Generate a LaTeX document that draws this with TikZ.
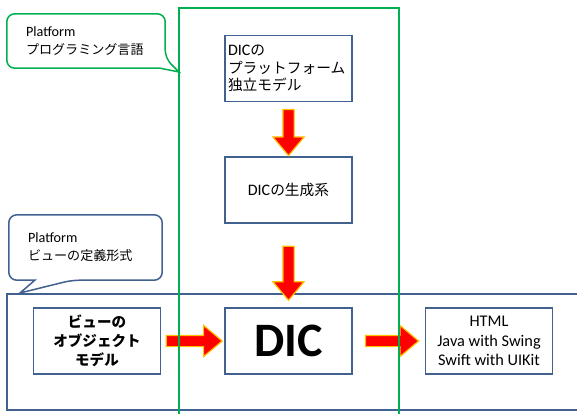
\documentclass[tikz,border=0pt]{standalone}
\usepackage{fontspec}
\setmainfont{Carlito}
\newfontfamily\jp{Noto Sans CJK JP}[Scale=0.92]
\usetikzlibrary{shapes.arrows,calc}
\definecolor{boxblue}{HTML}{41618F}
\definecolor{lanegreen}{HTML}{00B050}
\definecolor{arrowedge}{HTML}{FFC000}
\tikzset{
  blocknode/.style = {inner sep=0pt, font=\fontsize{16}{17.5}\selectfont},
  % B box: blue frame, centred text
  box_B/.style = {blocknode, rectangle, draw=boxblue, line width=1.5pt, fill=white,
    minimum width=127pt, minimum height=66pt, align=center},
  % L box: same frame, text to the left
  box_L/.style = {box_B, align=left, text width=121pt, inner xsep=3pt},
  callout_T/.style = {inner sep=0pt, font=\fontsize{14.2}{18}\selectfont, align=left},
  callout_G/.style = {draw=lanegreen, line width=1.5pt, fill=white},
  callout_B/.style = {draw=boxblue, line width=1.5pt, fill=white},
  % big red arrows
  arr_X/.style = {single arrow, draw=arrowedge, fill=red, line width=1.2pt, inner sep=5pt,
    single arrow head extend=10pt, single arrow tip angle=80},
  arr_D/.style = {arr_X, shape border rotate=270},
  arr_R/.style = {arr_X, shape border rotate=0},
  region_B/.style = {draw=boxblue, line width=2pt},
  lane_G/.style = {draw=lanegreen, line width=1.5pt}
}

\begin{document}
\begin{tikzpicture}[x=1pt,y=-1pt]
  \useasboundingbox (0,0) rectangle (577,414);
  % Platform - view definition region:
  \draw[region_B] (7,294) rectangle (610,410);

  % Callout 1 - programming language:
  \node[callout_T, text width=120pt, inner xsep=19pt, minimum width=158pt, minimum height=54pt]
    (pf1) at (86,41) {Platform\\{\jp プログラミング言語}};
  \coordinate (tip1) at (179,72);
  \draw[callout_G] (pf1.north) [rounded corners=8pt] -- (pf1.north east)
    -- ($(pf1.south east)+(0,-10)$) [sharp corners] -- (tip1) -- ($(pf1.south east)+(-5,0)$)
    [rounded corners=8pt] -- (pf1.south west) -- (pf1.north west) -- cycle;
  \node[callout_T, text width=120pt, inner xsep=19pt] at (pf1) {Platform\\{\jp プログラミング言語}};

  % Callout 2 - view definition form:
  \node[callout_T, text width=115pt, inner xsep=19pt, minimum width=153pt, minimum height=65pt]
    (pf2) at (85.5,247.5) {Platform\\{\jp ビューの定義形式}};
  \coordinate (tip2) at (20,293);
  \draw[callout_B] (pf2.north) [rounded corners=8pt] -- (pf2.north east) -- (pf2.south east)
    -- ($(pf2.south west)+(63,0)$) [sharp corners] -- (tip2) -- ($(pf2.south west)+(26,0)$)
    [rounded corners=8pt] -- (pf2.south west) -- (pf2.north west) -- cycle;
  \node[callout_T, text width=115pt, inner xsep=19pt] at (pf2) {Platform\\{\jp ビューの定義形式}};

  % Layer 0 - independent model and generator:
  \node[box_L] (pim) at (288.5,68.5) {DIC{\jp の}\\{\jp プラットフォーム}\\{\jp 独立モデル}};
  \node[box_B] (gen) at (288.5,190) {DIC{\jp の生成系}};

  % Layer 1 - view model, DIC, targets:
  \node[box_B, font=\fontsize{15.8}{19}\selectfont\bfseries] (view) at (97,341)
    {{\jp ビューの}\\{\jp オブジェクト}\\{\jp モデル}};
  \node[box_B, font=\fontsize{48}{50}\selectfont\bfseries] (dic) at (288.5,341) {DIC};
  \node[box_B, font=\fontsize{16.3}{19.5}\selectfont] (html) at (489,341)
    {HTML\\Java with Swing\\Swift with UIKit};

  % arrows between the boxes
  \path (pim) -- node[arr_D, minimum height=46pt] (a1) {} (gen);
  \path (gen) -- node[arr_D, minimum height=54pt, pos=0.553] (a2) {} (dic);
  \path (view) -- node[arr_R, minimum height=56pt, pos=0.47] (a3) {} (dic);
  \path (dic) -- node[arr_R, minimum height=53pt] (a4) {} (html);

  % Platform independent lane
  \draw[lane_G] (179,8) rectangle (399,430);
\end{tikzpicture}
\end{document}
